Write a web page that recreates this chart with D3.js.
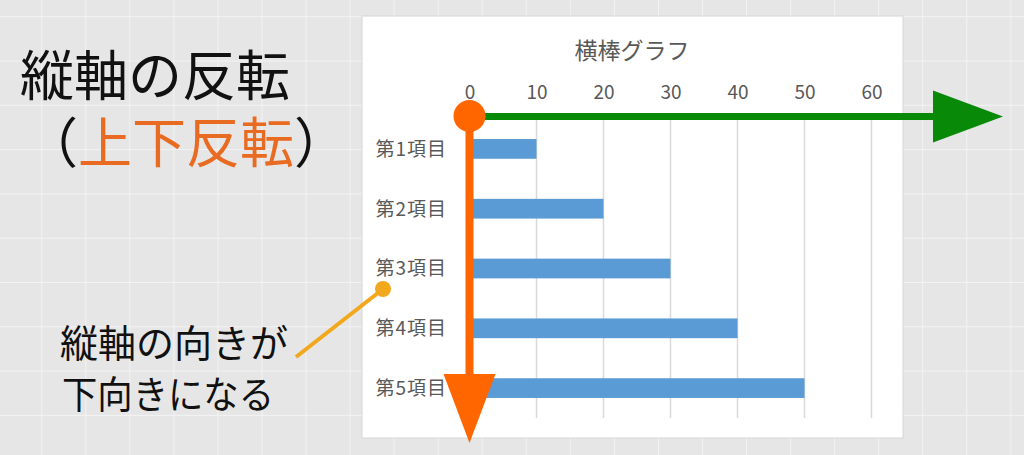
<!DOCTYPE html>
<html><head><meta charset="utf-8">
<script src="https://cdn.jsdelivr.net/npm/d3@7/dist/d3.min.js"></script>
<style>
html,body{margin:0;padding:0;background:#e6e6e6;overflow:hidden;}
text{font-family:"Noto Sans CJK JP","Noto Sans",sans-serif;}
</style></head>
<body>
<svg id="c" width="1024" height="455"></svg>
<script>
const title = "横棒グラフ";
const categories = ["第1項目","第2項目","第3項目","第4項目","第5項目"];
const values = [10,20,30,40,50];
const xTicks = [0,10,20,30,40,50,60];

const svg = d3.select("#c");
const W = 1024, H = 455;

// background sheet grid
svg.append("rect").attr("width",W).attr("height",H).attr("fill","#e6e6e6");
const bg = svg.append("g").attr("stroke","#f3f3f3").attr("stroke-width",1);
d3.range(-2.3, W, 44.05).forEach(x=>bg.append("line").attr("x1",x).attr("x2",x).attr("y1",0).attr("y2",H));
d3.range(16.7-44.3, H, 44.3).forEach(y=>bg.append("line").attr("y1",y).attr("y2",y).attr("x1",0).attr("x2",W));

// chart panel
svg.append("rect").attr("x",362).attr("y",16).attr("width",541).attr("height",422)
  .attr("fill","#ffffff").attr("stroke","#d6d6d6").attr("stroke-width",1);

svg.append("text").attr("x",632).attr("y",59).attr("text-anchor","middle")
  .attr("font-size",23).attr("fill","#595959").text(title);

const x = d3.scaleLinear().domain([0,60]).range([469.5,871.5]);
const y = d3.scaleBand().domain(categories).range([119,418]).paddingInner(0.67).paddingOuter(0.335);

// gridlines
svg.append("g").selectAll("line").data(xTicks.filter(t=>t>0)).join("line")
  .attr("x1",d=>x(d)).attr("x2",d=>x(d)).attr("y1",119).attr("y2",418)
  .attr("stroke","#d9d9d9").attr("stroke-width",1.5);

// top axis tick labels
const xAxis = d3.axisTop(x).tickValues(xTicks).tickSize(0).tickPadding(0);
const gx = svg.append("g").attr("transform","translate(0,99)").call(xAxis);
gx.select(".domain").remove();
gx.selectAll("text").attr("font-size",19).attr("fill","#595959")
  .attr("font-family","'Noto Sans','Noto Sans CJK JP',sans-serif").attr("dy",0);

// left axis labels
const yAxis = d3.axisLeft(y).tickSize(0).tickPadding(0);
const gy = svg.append("g").attr("transform","translate(447,0)").call(yAxis);
gy.select(".domain").remove();
gy.selectAll("text").attr("font-size",19).attr("fill","#595959")
  .attr("font-family","'Noto Sans CJK JP',sans-serif").attr("letter-spacing","1px").attr("dy","0.36em");

// bars
svg.append("g").selectAll("rect").data(values).join("rect")
  .attr("x",x(0)).attr("y",(d,i)=>y(categories[i]))
  .attr("width",d=>x(d)-x(0)).attr("height",y.bandwidth())
  .attr("fill","#5b9bd5");

// green horizontal arrow
const green = "#088a08";
svg.append("line").attr("x1",x(0)).attr("x2",940).attr("y1",116.5).attr("y2",116.5)
  .attr("stroke",green).attr("stroke-width",7);
svg.append("path").attr("d","M933,90.5 L1003,116.5 L933,142.5 Z").attr("fill",green);

// orange vertical arrow
const orange = "#ff6600";
svg.append("line").attr("x1",x(0)).attr("x2",x(0)).attr("y1",116).attr("y2",380)
  .attr("stroke",orange).attr("stroke-width",8);
svg.append("circle").attr("cx",x(0)).attr("cy",116).attr("r",16).attr("fill",orange);
svg.append("path").attr("d",`M${x(0)-26},374 L${x(0)+26},374 L${x(0)},443 Z`).attr("fill",orange);

// annotation connector
const amber = "#f2a81d";
svg.append("line").attr("x1",296).attr("y1",357).attr("x2",383).attr("y2",289)
  .attr("stroke",amber).attr("stroke-width",4);
svg.append("circle").attr("cx",383).attr("cy",289).attr("r",8).attr("fill",amber);

// left headline
svg.append("text").attr("x",20).attr("y",96).attr("font-size",54).attr("fill","#111")
  .text("縦軸の反転");
const t2 = svg.append("text").attr("x",24).attr("y",163).attr("font-size",54).attr("fill","#111");
t2.append("tspan").text("（");
t2.append("tspan").attr("fill","#e96a21").text("上下反転");
t2.append("tspan").text("）");

svg.append("text").attr("x",60).attr("y",357).attr("font-size",38).attr("fill","#111").text("縦軸の向きが");
svg.append("text").attr("x",62).attr("y",408).attr("font-size",38).attr("fill","#111")
  .attr("textLength",212).attr("lengthAdjust","spacingAndGlyphs").text("下向きになる");
</script>
</body></html>
